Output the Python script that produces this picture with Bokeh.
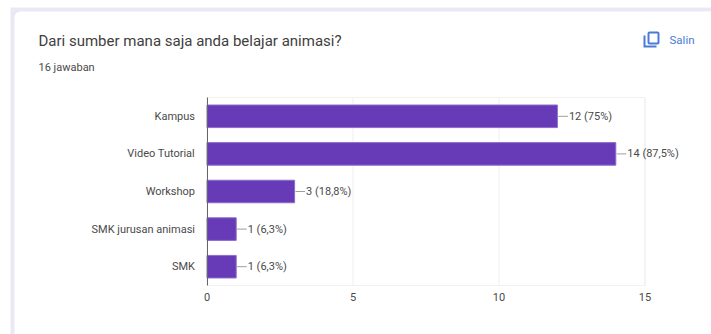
from bokeh.core.properties import value
from bokeh.embed import file_html
from bokeh.resources import INLINE
from bokeh.models import (BoxAnnotation, ColumnDataSource, FixedTicker,
                          Label, LabelSet, PolyAnnotation, Range1d)
from bokeh.plotting import figure

W, H = 711, 334

# Survey responses
categories = ["Kampus", "Video Tutorial", "Workshop", "SMK jurusan animasi", "SMK"]
counts = [12, 14, 3, 1, 1]
value_labels = ["12 (75%)", "14 (87,5%)", "3 (18,8%)", "1 (6,3%)", "1 (6,3%)"]
x_ticks = [0, 5, 10, 15]

title_text = "Dari sumber mana saja anda belajar animasi?"
subtitle_text = "16 jawaban"
copy_text = "Salin"

BAR = "#673ab7"
TEXT = "#4a4a4a"
BLUE = "#4b7bd8"

# The frame fills the whole canvas; the ranges place the plot area inside it.
PLOT_L, PLOT_R, PLOT_T, PLOT_B = 206.5, 644.5, 97, 285
px_per_unit = (PLOT_R - PLOT_L) / 15
px_per_row = (PLOT_B - PLOT_T) / len(categories)
x_range = Range1d(-PLOT_L / px_per_unit, (W - PLOT_L) / px_per_unit)
y_range = Range1d((H - PLOT_T) / px_per_row - 0.5, -PLOT_T / px_per_row - 0.5)

p = figure(width=W, height=H, output_backend="svg", toolbar_location=None,
           x_range=x_range, y_range=y_range, min_border=0,
           background_fill_color="#ffffff", border_fill_color="#ffffff", outline_line_color=None)


def canvas_box(left, right, top, bottom, **kw):
    return BoxAnnotation(left=left, right=right, top=top, bottom=bottom,
                         left_units="canvas", right_units="canvas",
                         top_units="canvas", bottom_units="canvas", **kw)


# Page tint and white card behind everything
p.add_layout(canvas_box(10, W, 7, H, fill_color="#e9e9f5", fill_alpha=1, line_color=None,
                        level="underlay"))
p.add_layout(canvas_box(14, W, 11, H, fill_color="#ffffff", fill_alpha=1, line_color=None,
                        level="underlay", border_radius=(6, 0, 0, 0)))
# Plot frame hairlines
p.add_layout(canvas_box(PLOT_L, PLOT_R, PLOT_T, PLOT_B, fill_alpha=0, line_color="#f1f1f1",
                        line_alpha=1, line_width=1, level="underlay"))

rows = list(range(len(categories)))
src = ColumnDataSource(dict(
    row=rows,
    n=counts,
    label=value_labels,
    lead0=[v + 0.03 for v in counts],
    lead1=[v + 0.36 for v in counts],
))

# Vertical grid lines, limited to the plot area
grid = ColumnDataSource(dict(x=x_ticks[1:], y0=[-0.5] * 3, y1=[len(categories) - 0.5] * 3))
p.segment(x0="x", x1="x", y0="y0", y1="y1", source=grid, line_color="#efefef", line_width=1)

p.hbar(y="row", left=0, right="n", height=0.6, source=src, fill_color=BAR,
       line_color="#8c6ccb", line_width=1)
p.segment(x0="lead0", x1="lead1", y0="row", y1="row", source=src, line_color="#9e9e9e", line_width=1)
p.add_layout(LabelSet(x="lead1", y="row", text="label", source=src, x_offset=1,
                      text_font=value("Roboto"), text_font_size="11px", text_color=TEXT,
                      text_baseline="middle", text_align="left"))

p.xaxis.fixed_location = len(categories) - 0.5
p.xaxis.ticker = FixedTicker(ticks=x_ticks)
p.xaxis.axis_line_color = None
p.xaxis.major_tick_line_color = None
p.xaxis.minor_tick_line_color = None
p.xaxis.major_tick_out = 0
p.xaxis.major_label_standoff = 7
p.xaxis.major_label_text_font = "Roboto"
p.xaxis.major_label_text_font_size = "11px"
p.xaxis.major_label_text_color = TEXT

p.yaxis.fixed_location = 0
p.yaxis.bounds = (-0.5, len(categories) - 0.5)
p.yaxis.ticker = FixedTicker(ticks=rows)
p.yaxis.major_label_overrides = dict(zip(rows, categories))
p.yaxis.axis_line_color = "#666666"
p.yaxis.major_tick_line_color = None
p.yaxis.minor_tick_line_color = None
p.yaxis.major_tick_out = 0
p.yaxis.major_label_standoff = 12
p.yaxis.major_label_text_font = "Roboto"
p.yaxis.major_label_text_font_size = "11px"
p.yaxis.major_label_text_color = TEXT

p.xgrid.grid_line_color = None
p.ygrid.grid_line_color = None

p.add_layout(Label(x=38, y=40, x_units="canvas", y_units="canvas", text=title_text,
                   text_font="Roboto", text_font_size="15px", text_color="#404040",
                   text_baseline="middle"))
p.add_layout(Label(x=38, y=67, x_units="canvas", y_units="canvas", text=subtitle_text,
                   text_font="Roboto", text_font_size="11px", text_color=TEXT,
                   text_baseline="middle"))
p.add_layout(Label(x=669, y=39, x_units="canvas", y_units="canvas", text=copy_text,
                   text_font="Roboto", text_font_size="11.5px", text_color=BLUE,
                   text_baseline="middle"))

# Copy icon: front sheet outline, then the L-shaped sheet behind it
p.add_layout(canvas_box(648, 658, 32, 43, fill_alpha=0, line_color=BLUE, line_alpha=1,
                        line_width=2, border_radius=1))
p.add_layout(PolyAnnotation(xs=[643, 645, 645, 656, 656, 643], ys=[35, 35, 45, 45, 47, 47],
                            xs_units="canvas", ys_units="canvas",
                            fill_color=BLUE, fill_alpha=1, line_color=None))

open("out.html", "w").write(file_html(p, INLINE))
